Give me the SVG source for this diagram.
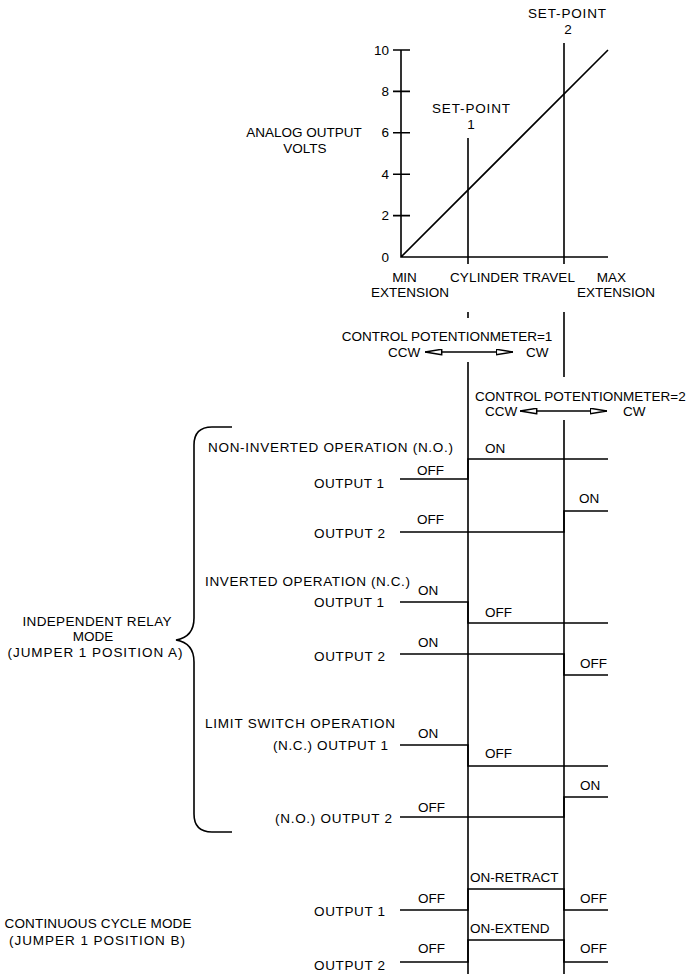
<svg xmlns="http://www.w3.org/2000/svg" width="689" height="974" viewBox="0 0 689 974">
<style>
text{font-family:"Liberation Sans",Arial,sans-serif;font-size:13.5px;fill:#000}
.m{text-anchor:middle}.e{text-anchor:end}
.ln{fill:none;stroke:#000;stroke-width:1.6}
.wv{fill:none;stroke:#000;stroke-width:1.6;stroke-linejoin:miter}
.ar{fill:none;stroke:#000;stroke-width:1.4;marker-start:url(#ah);marker-end:url(#ah)}
</style>
<defs>
<marker id="ah" viewBox="0 0 18 7" refX="17.5" refY="3.5" markerWidth="18" markerHeight="7" orient="auto-start-reverse" markerUnits="userSpaceOnUse">
<path d="M0.8,0.8 L17.4,3.5 L0.8,6.2 Z" fill="#fff" stroke="#000" stroke-width="1.5"/>
</marker>
</defs>
<rect width="689" height="974" fill="#fff"/>

<g id="graph">
<path class="ln" d="M401,50 V257 H608 M401,257 L608,50"/>
<path class="ln" d="M393,50 H410 M393,91.4 H410 M393,132.8 H410 M393,174.2 H410 M393,215.6 H410"/>
<text class="e" x="389" y="55">10</text>
<text class="e" x="389" y="96">8</text>
<text class="e" x="389" y="137">6</text>
<text class="e" x="389" y="179">4</text>
<text class="e" x="389" y="220">2</text>
<text class="e" x="389" y="262">0</text>
<text class="m" x="304" y="137">ANALOG OUTPUT</text>
<text class="m" x="305" y="153">VOLTS</text>
<text class="m" x="404.5" y="282">MIN</text>
<text class="m" x="410" y="297">EXTENSION</text>
<text x="450" y="282" textLength="125" lengthAdjust="spacing">CYLINDER TRAVEL</text>
<text class="m" x="611.5" y="282">MAX</text>
<text class="m" x="616" y="297">EXTENSION</text>
</g>

<g id="setpoint1">
<text class="m" x="471" y="113" textLength="78" lengthAdjust="spacing">SET-POINT</text>
<text class="m" x="471" y="129">1</text>
</g>
<g id="setpoint2">
<text class="m" x="567" y="18" textLength="78" lengthAdjust="spacing">SET-POINT</text>
<text class="m" x="568" y="34">2</text>
</g>

<g id="pot1">
<text class="m" x="447" y="341">CONTROL POTENTIONMETER=1</text>
<text x="388" y="357">CCW</text>
<text x="526" y="357">CW</text>
</g>
<g id="pot2">
<text x="475" y="401">CONTROL POTENTIONMETER=2</text>
<text x="485" y="416">CCW</text>
<text x="623" y="416">CW</text>
</g>

<g id="brace">
<path class="ln" d="M232,427 H212 Q194,427 194,445 V618 Q194,637 176,640 Q194,643 194,662 V814 Q194,832 212,832 H232"/>
<text class="m" x="97" y="626" textLength="149" lengthAdjust="spacing">INDEPENDENT RELAY</text>
<text class="m" x="93" y="641">MODE</text>
<text class="m" x="95" y="657" textLength="175" lengthAdjust="spacing">(JUMPER 1 POSITION A)</text>
</g>

<g id="non-inverted">
<text x="208" y="452" textLength="245" lengthAdjust="spacing">NON-INVERTED OPERATION (N.O.)</text>
<text x="485" y="453">ON</text>
<text x="417" y="475">OFF</text>
<text class="e" x="384" y="488" textLength="70" lengthAdjust="spacing">OUTPUT 1</text>
<text x="417" y="524">OFF</text>
<text class="e" x="385" y="538" textLength="71" lengthAdjust="spacing">OUTPUT 2</text>
<text x="579" y="503">ON</text>
</g>

<g id="inverted">
<text x="205" y="586" textLength="205" lengthAdjust="spacing">INVERTED OPERATION (N.C.)</text>
<text x="418" y="595">ON</text>
<text class="e" x="384" y="607" textLength="70" lengthAdjust="spacing">OUTPUT 1</text>
<text x="485" y="617">OFF</text>
<text x="418" y="647">ON</text>
<text class="e" x="385" y="661" textLength="71" lengthAdjust="spacing">OUTPUT 2</text>
<text x="580" y="668">OFF</text>
</g>

<g id="limit-switch">
<text x="205" y="728" textLength="190" lengthAdjust="spacing">LIMIT SWITCH OPERATION</text>
<text x="418" y="738">ON</text>
<text class="e" x="388" y="750" textLength="115" lengthAdjust="spacing">(N.C.) OUTPUT 1</text>
<text x="485" y="758">OFF</text>
<text x="580" y="790">ON</text>
<text x="418" y="812">OFF</text>
<text class="e" x="392" y="823" textLength="117" lengthAdjust="spacing">(N.O.) OUTPUT 2</text>
</g>

<g id="continuous">
<text class="m" x="98" y="928" textLength="187" lengthAdjust="spacing">CONTINUOUS CYCLE MODE</text>
<text class="m" x="97" y="945" textLength="176" lengthAdjust="spacing">(JUMPER 1 POSITION B)</text>
<text x="470" y="882">ON-RETRACT</text>
<text x="418" y="903">OFF</text>
<text x="580" y="903">OFF</text>
<text class="e" x="385" y="916" textLength="71" lengthAdjust="spacing">OUTPUT 1</text>
<text x="470" y="933">ON-EXTEND</text>
<text x="418" y="953">OFF</text>
<text x="580" y="953">OFF</text>
<text class="e" x="385" y="970" textLength="71" lengthAdjust="spacing">OUTPUT 2</text>
</g>

<g id="connectors">
<path class="ln" d="M468,138 V264 M468,312 V318 M468,362 V974"/>
<path class="ln" d="M564,43 V264 M564,312 V377 M564,420 V974"/>
<path class="ar" d="M425,352 H513"/>
<path class="ar" d="M520,411 H607"/>
<polyline class="wv" points="400,479 468,479 468,459 608,459"/>
<polyline class="wv" points="400,532 564,532 564,511 608,511"/>
<polyline class="wv" points="400,602 468,602 468,623 608,623"/>
<polyline class="wv" points="400,654 564,654 564,675 608,675"/>
<polyline class="wv" points="400,745 468,745 468,766 608,766"/>
<polyline class="wv" points="400,817 564,817 564,797 608,797"/>
<polyline class="wv" points="400,910 468,910 468,889 564,889 564,910 608,910"/>
<polyline class="wv" points="400,962 468,962 468,940 564,940 564,962 608,962"/>
</g>
</svg>
